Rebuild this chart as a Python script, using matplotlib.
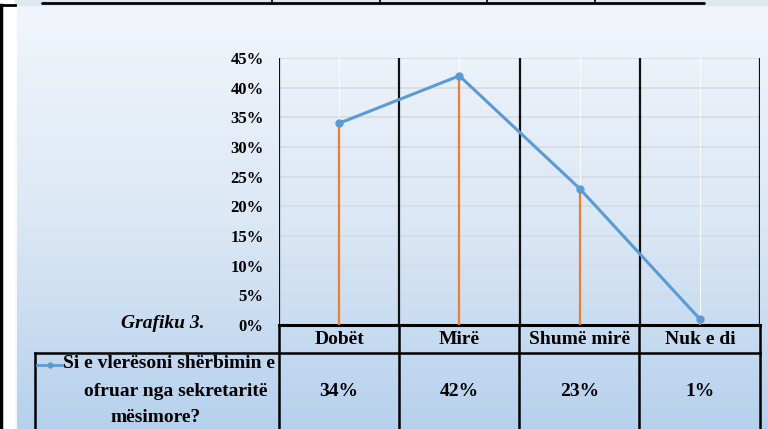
import numpy as np
import matplotlib
matplotlib.use("Agg")
import matplotlib.pyplot as plt
from matplotlib.colors import LinearSegmentedColormap

# data
categories = ["Dobët", "Mirë", "Shumë mirë", "Nuk e di"]
values = [34, 42, 23, 1]
value_labels = ["34%", "42%", "23%", "1%"]
yticks = [0, 5, 10, 15, 20, 25, 30, 35, 40, 45]
series_name = ["Si e vlerësoni shërbimin e", "ofruar nga sekretaritë", "mësimore?"]
caption = "Grafiku 3."

W, H = 768, 429
BLUE = "#5b9bd5"
ORANGE = "#ed7d31"
FONT = "Liberation Serif"
FS = 14

fig = plt.figure(figsize=(W / 100, H / 100), dpi=100)
fig.patch.set_facecolor("white")

# overlay in pixel coords for background, table and texts
bg = fig.add_axes([0, 0, 1, 1])
bg.set_xlim(0, W)
bg.set_ylim(H, 0)
bg.axis("off")

grad = np.linspace(0, 1, 256).reshape(-1, 1)
cmap = LinearSegmentedColormap.from_list("bg", ["#f2f5fb", "#dce8f5", "#b6d1ed"])
bg.imshow(grad, cmap=cmap, aspect="auto", extent=(15, W, H, 5), zorder=0)
bg.plot([15.5, 15.5], [5, H], color="white", lw=1.2, zorder=1)

# piece of the table above + page border on the left
bg.fill_between([15, W], 0, 5, color="#dfe7f1", zorder=1)
bg.plot([42, 704], [3, 3], color="black", lw=2, solid_capstyle="round", zorder=2)
for xd in [272, 380, 487, 595]:
    bg.plot([xd, xd], [0, 3], color="black", lw=1.2, zorder=2)
bg.plot([0, 15], [5, 5], color="black", lw=2, zorder=2)
bg.plot([1, 1], [5, H], color="black", lw=2.5, zorder=2)

# plot area
x0, x1, y0, y1 = 279, 760, 58, 325
ax = fig.add_axes([x0 / W, 1 - y1 / H, (x1 - x0) / W, (y1 - y0) / H])
ax.patch.set_alpha(0)
x = np.arange(len(categories))
ax.set_xlim(-0.5, len(categories) - 0.5)
ax.set_ylim(0, 45)

for yt in yticks[1:]:
    ax.axhline(yt, color="#d5dbe3", lw=1.2, zorder=1)
for xc in x:
    ax.axvline(xc, color="white", lw=0.8, alpha=0.8, zorder=1)
for xs in np.arange(-0.5, len(categories), 1.0):
    ax.axvline(xs, color="#111111", lw=1.6, zorder=2)

ax.vlines(x, 0, values, color=ORANGE, lw=1.6, zorder=3)
ax.plot(x, values, color=BLUE, lw=2.2, marker="o", markersize=5, zorder=4)

ax.set_yticks(yticks)
ax.set_yticklabels([f"{v}%" for v in yticks], fontfamily=FONT, fontweight="bold", fontsize=12)
ax.tick_params(axis="y", length=0, pad=11)
ax.set_xticks([])
for s in ax.spines.values():
    s.set_visible(False)

# data table below the plot
bg.plot([x0, x1], [325, 325], color="black", lw=2.2, zorder=5)
bg.plot([35, x1], [353, 353], color="black", lw=1.8, zorder=5)
bg.plot([35, 35], [353, H], color="black", lw=1.8, zorder=5)
for xs in [279, 399, 519, 639, 760]:
    bg.plot([xs, xs], [325, H], color="black", lw=1.8, zorder=5)

cell_w = (x1 - x0) / len(categories)
for i, (cat, lab) in enumerate(zip(categories, value_labels)):
    cx = x0 + cell_w * (i + 0.5)
    bg.text(cx, 340, cat, ha="center", va="center", fontfamily=FONT,
            fontweight="bold", fontsize=FS, zorder=6)
    bg.text(cx, 392, lab, ha="center", va="center", fontfamily=FONT,
            fontweight="bold", fontsize=FS, zorder=6)

# legend key + series name
bg.plot([37, 62], [365, 365], color=BLUE, lw=2, zorder=6)
bg.plot([50], [365], marker="o", color=BLUE, markersize=3.5, zorder=6)
for txt, cx, cy in zip(series_name, [169, 176, 156], [364, 391, 417]):
    bg.text(cx, cy, txt, ha="center", va="center", fontfamily=FONT,
            fontweight="bold", fontsize=FS, zorder=6)

bg.text(163, 324, caption, ha="center", va="center", fontfamily=FONT,
        fontweight="bold", fontstyle="italic", fontsize=FS, zorder=6)

fig.savefig("out.png", dpi=100)
